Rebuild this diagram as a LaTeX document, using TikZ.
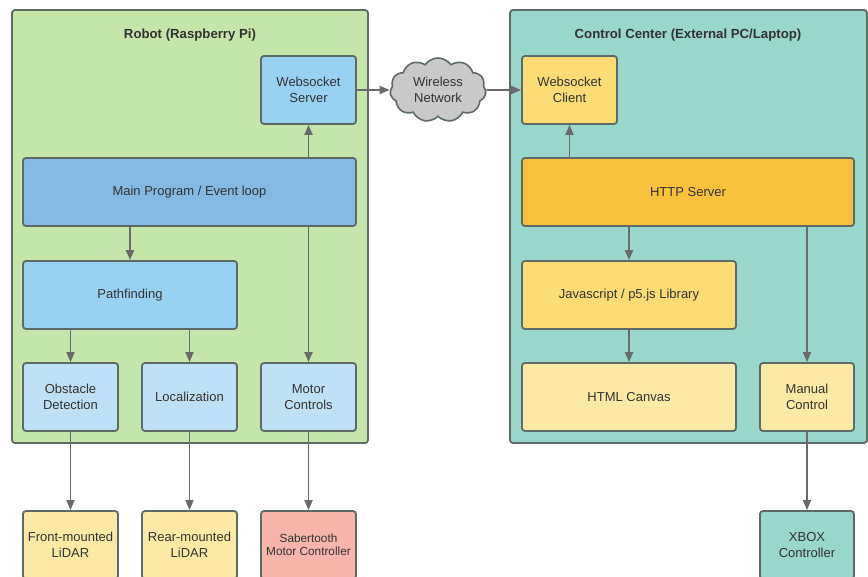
\documentclass[tikz,border=0pt]{standalone}
\usepackage{fontspec}
\setmainfont{Liberation Sans}
\usetikzlibrary{arrows.meta,shapes.symbols}

\definecolor{robotbg}{HTML}{C6E5AA}
\definecolor{ctrlbg}{HTML}{99D6CB}
\definecolor{blueA}{HTML}{99D1F2}
\definecolor{blueB}{HTML}{83B9E3}
\definecolor{blueC}{HTML}{BDE2F7}
\definecolor{yelA}{HTML}{FEDC74}
\definecolor{yelB}{HTML}{F9C23C}
\definecolor{yelC}{HTML}{FDE9A6}
\definecolor{salmon}{HTML}{F8B5AA}
\definecolor{cloudgray}{HTML}{C9C9C9}
\definecolor{edge}{HTML}{5E6A66}
\definecolor{wire}{HTML}{6A6A6A}
\definecolor{ink}{HTML}{333333}

\tikzset{
  container/.style={draw=edge, line width=1.8pt, rounded corners=3pt, inner sep=0pt},
  title/.style={font=\bfseries\fontsize{13.2}{15}\selectfont, text=ink},
  block/.style={draw=edge, line width=1.8pt, rounded corners=3pt, align=center,
    text=ink, font=\fontsize{13}{15.5}\selectfont, inner sep=0pt,
    minimum height=68pt, minimum width=95pt},
  flow/.style={draw=wire, line width=1.9pt, -{Triangle[length=10pt,width=8pt]}},
}

\begin{document}
\begin{tikzpicture}[x=1pt,y=-1pt]
\useasboundingbox (0,0) rectangle (868,577);

% containers
\node[container, fill=robotbg, minimum width=356pt, minimum height=433pt] (robot) at (190,226.5) {};
\node[container, fill=ctrlbg, minimum width=357pt, minimum height=433pt] (ctrl) at (688.5,226.5) {};
\node[title] (robottitle) at (190,35) {Robot (Raspberry Pi)};
\node[title] (ctrltitle) at (688,35) {Control Center (External PC/Laptop)};

% robot side
\node[block, fill=blueA] (wss) at (308.5,90) {Websocket\\Server};
\node[block, fill=blueB, minimum width=333pt] (main) at (189.5,192) {Main Program / Event loop};
\node[block, fill=blueA, minimum width=214pt] (path) at (130,295) {Pathfinding};
\node[block, fill=blueC] (obst) at (70.5,397) {Obstacle\\Detection};
\node[block, fill=blueC] (loc) at (189.5,397) {Localization};
\node[block, fill=blueC] (mot) at (308.5,397) {Motor\\Controls};
\node[block, fill=yelC] (front) at (70.5,545) {Front-mounted\\LiDAR};
\node[block, fill=yelC] (rear) at (189.5,545) {Rear-mounted\\LiDAR};
\node[block, fill=salmon, font=\fontsize{11.8}{13.5}\selectfont] (saber) at (308.5,545) {Sabertooth\\Motor Controller};

% network
\node[cloud, cloud puffs=11, cloud puff arc=110, aspect=1.5, draw=edge, line width=1.6pt,
  fill=cloudgray, text=ink, align=center, font=\fontsize{13}{15.5}\selectfont,
  minimum width=96pt, minimum height=64pt, inner sep=0pt] (net) at (438,90) {Wireless\\Network};

% control center side
\node[block, fill=yelA] (wsc) at (569.5,90) {Websocket\\Client};
\node[block, fill=yelB, minimum width=332pt] (http) at (688,192) {HTTP Server};
\node[block, fill=yelA, minimum width=214pt] (js) at (629,295) {Javascript / p5.js Library};
\node[block, fill=yelC, minimum width=214pt] (html) at (629,397) {HTML Canvas};
\node[block, fill=yelC, minimum width=94pt] (man) at (807,397) {Manual\\Control};
\node[block, fill=ctrlbg, minimum width=94pt] (xbox) at (807,545) {XBOX\\Controller};

% connectors
\draw[flow] (main.north -| wss) -- (wss.south);
\draw[flow] (wss.east) -- (net.west);
\draw[flow] (net.east) -- (wsc.west);
\draw[flow] (main.south -| path) -- (path.north);
\draw[flow] (path.south -| obst) -- (obst.north);
\draw[flow] (path.south -| loc) -- (loc.north);
\draw[flow] (main.south -| mot) -- (mot.north);
\draw[flow] (obst.south) -- (front.north);
\draw[flow] (loc.south) -- (rear.north);
\draw[flow] (mot.south) -- (saber.north);
\draw[flow] (http.north -| wsc) -- (wsc.south);
\draw[flow] (http.south -| js) -- (js.north);
\draw[flow] (js.south) -- (html.north);
\draw[flow] (http.south -| man) -- (man.north);
\draw[flow] (man.south) -- (xbox.north);
\end{tikzpicture}
\end{document}
